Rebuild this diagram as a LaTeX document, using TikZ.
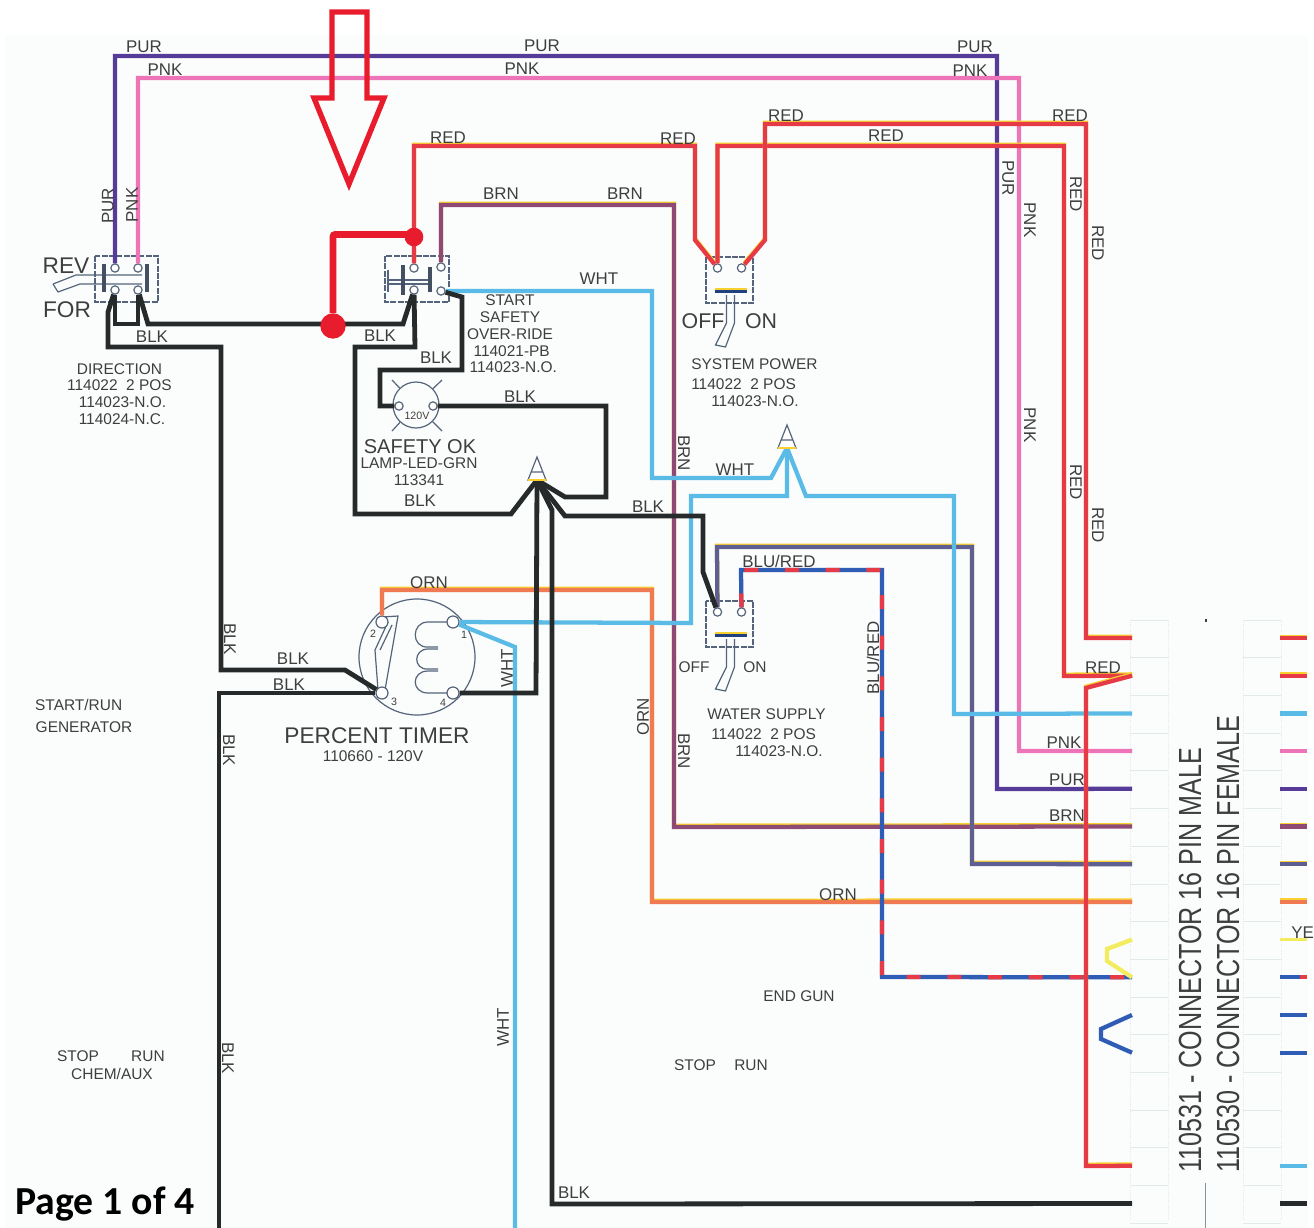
\documentclass[tikz,border=0pt]{standalone}
\usepackage{fontspec}
\setmainfont{Liberation Sans}
\newfontfamily\pagefont{Carlito}
\usepackage{tikz}
\usetikzlibrary{arrows.meta, positioning, calc}

\definecolor{inkgrey}{HTML}{3E3E3E}
\definecolor{boxline}{HTML}{55647A}
\definecolor{paper}{HTML}{FBFDFC}
\definecolor{gridline}{HTML}{E2EAEB}
\definecolor{blkwire}{HTML}{262A2A}
\definecolor{redwire}{HTML}{E63A46}
\definecolor{purwire}{HTML}{563C98}
\definecolor{pnkwire}{HTML}{EE74B8}
\definecolor{brnwire}{HTML}{8E4A74}
\definecolor{whtwire}{HTML}{5ABBE6}
\definecolor{ornwire}{HTML}{F07A52}
\definecolor{gbwire}{HTML}{5E5E92}
\definecolor{bluwire}{HTML}{2F5DB6}
\definecolor{yelwire}{HTML}{F2EC5E}
\definecolor{tintyel}{HTML}{F8D030}
\definecolor{markred}{HTML}{E81C2C}

% wire with the yellow print fringe along its top edge
\newcommand{\tintwire}[2]{\draw[wire, draw=tintyel, transform canvas={yshift=1pt}] #2; \draw[wire, draw=#1] #2;}

\begin{document}
\begin{tikzpicture}[x=0.75pt, y=-0.75pt,
                wire/.style={line width=3.2pt, line join=miter},
                blk/.style={wire, draw=blkwire, line width=3.6pt},
                pur/.style={wire, draw=purwire},
                pnk/.style={wire, draw=pnkwire},
                wht/.style={wire, draw=whtwire},
                blured/.style={wire, draw=bluwire, postaction={draw=redwire, dash pattern=on 10.5pt off 20pt}},
                term/.style={circle, draw=boxline, fill=white, line width=0.9pt, inner sep=0pt, minimum size=6.2pt},
                bigterm/.style={term, minimum size=9pt},
                swbox/.style={draw=boxline, line width=1.1pt, dash pattern=on 4.5pt off 1pt},
                symline/.style={draw=boxline, line width=0.9pt},
                tinynum/.style={font=\fontsize{8}{8}\selectfont, text=inkgrey, inner sep=0pt},
                wlabel/.style={font=\fontsize{12.7}{13}\selectfont, text=inkgrey, inner sep=0pt},
                note/.style={font=\fontsize{11.6}{12.6}\selectfont, text=inkgrey, inner sep=0pt, align=center},
                bignote/.style={font=\fontsize{15}{15}\selectfont, text=inkgrey, inner sep=0pt},
                hugenote/.style={font=\fontsize{17}{17}\selectfont, text=inkgrey, inner sep=0pt},
                pinnote/.style={font=\fontsize{24}{24}\selectfont, text=inkgrey, inner sep=0pt, rotate=90, anchor=west},
                toggleswitch/.pic={
                    \draw[swbox] (-23.5,-23) rectangle (23.5,23);
                    \node[term] (-a) at (-12,-12) {};
                    \node[term] (-b) at (12,-12) {};
                    \draw[draw=tintyel, line width=2.6pt] (-15,9.5) -- (17,9.5);
                    \draw[draw=bluwire!70!black, line width=2.6pt] (-15,11.5) -- (17,11.5);
                    \draw[symline] (-3,15) -- (-3,43) -- (-14,65) -- (-4,67) -- (5,43) -- (5,15);
                },
                wirenut/.pic={
                    \draw[symline, fill=white] (-9,0) -- (0,-23) -- (9,0) -- cycle (-6,-8) -- (6,-8);
                    \draw[draw=tintyel, line width=1.6pt] (-9,0) -- (9,0);
                }]

                \useasboundingbox (0,0) rectangle (1314,1228);
                \fill[paper] (5,35) rectangle (1308,1228);

                % Connector block - right side
                \foreach \gx in {1130,1168,1243,1281}
                    \draw[gridline, line width=0.6pt, densely dotted] (\gx,620) -- (\gx,1220);
                \foreach \gr in {0,...,16}
                    \draw[gridline, line width=0.5pt] (1130,620+37.7*\gr) -- (1168,620+37.7*\gr)
                        (1243,620+37.7*\gr) -- (1281,620+37.7*\gr);
                \draw[boxline!70, line width=1.1pt] (1205.5,1183) -- (1205.5,1228);
                \fill[inkgrey] (1205,619) rectangle (1207,622);
                \foreach \i in {1,...,16} {
                    \coordinate (pin\i) at (1132,638+37.7*\i-37.7);
                    \coordinate (sock\i) at (1280,638+37.7*\i-37.7);
                    \coordinate (end\i) at (1307,638+37.7*\i-37.7);
                }
                \node[pinnote] (malename) at (1190,1173) {\scalebox{0.785}[1]{110531 - CONNECTOR 16 PIN MALE}};
                \node[pinnote] (femalename) at (1228,1173) {\scalebox{0.785}[1]{110530 - CONNECTOR 16 PIN FEMALE}};

                % Direction switch
                \draw[swbox] (95,256) rectangle (158,302);
                \draw[symline] (53,284) -- (76,275) -- (142,275) (58,292) -- (80,284) -- (142,284) (53,284) -- (58,292);
                \draw[draw=boxline!80!black, line width=3pt] (104,264) -- (104,292) (147,264) -- (147,292);
                \node[term] (dirA) at (115,268) {};
                \node[term] (dirB) at (138,268) {};
                \node[term] (dirC) at (115,290) {};
                \node[term] (dirD) at (138,290) {};

                % Safety switch
                \draw[swbox] (385,256) rectangle (449,302);
                \draw[symline] (388,270) -- (388,292) (388,280) -- (403,280) (388,284) -- (403,284) (403,280) -- (430,280) (403,284) -- (430,284);
                \draw[draw=boxline!80!black, line width=3pt] (403,265) -- (403,295) (430,267) -- (430,292);
                \node[term] (safeA) at (414,268) {};
                \node[term] (safeB) at (441,267) {};
                \node[term] (safeC) at (414,290) {};
                \node[term] (safeD) at (441,291) {};

                % Toggle switches
                \pic (sys) at (729.5,280) {toggleswitch};
                \pic (water) at (729.5,624) {toggleswitch};

                % Lamp
                \node[circle, draw=boxline, line width=0.9pt, inner sep=0pt, minimum size=34.5pt] (lamp) at (416,405) {};
                \draw[symline] (392,380) -- (lamp) (442,380) -- (lamp) (392,431) -- (lamp) (442,431) -- (lamp);
                \node[term] (lampL) at (399,406) {};
                \node[term] (lampR) at (433,406) {};
                \node[tinynum] (lampvolt) at (417,416) {120V};

                % Percent timer
                \node[circle, draw=boxline, line width=0.9pt, inner sep=0pt, minimum size=87pt] (timer) at (417,657) {};
                \draw[symline] (382,617) -- (398,616) -- (385,690) (378,690) -- (375,650) -- (388,622) (380,650) -- (392,625);
                \draw[symline] (450,622) -- (428,622) .. controls (411,622) and (411,648) .. (428,647) -- (438,647)
                    (438,649) -- (428,649) .. controls (413,649) and (413,670) .. (428,669) -- (438,669)
                    (438,671) -- (428,671) .. controls (411,671) and (411,693) .. (428,693) -- (450,693);
                \node[bigterm] (tim1) at (453,622) {};
                \node[bigterm] (tim2) at (382,622) {};
                \node[bigterm] (tim3) at (382,693) {};
                \node[bigterm] (tim4) at (453,693) {};
                \node[tinynum] (num1) at (464,635) {1};
                \node[tinynum] (num2) at (373,634) {2};
                \node[tinynum] (num3) at (394,702) {3};
                \node[tinynum] (num4) at (443,703) {4};

                % Splice points
                \coordinate (blknut) at (537,480);
                \coordinate (whtnut) at (787,448);

                % Top run
                \draw[pur] (dirA) -- (115,56) -- (997,56) -- (997,789) -- (pin5);
                \draw[pnk] (dirB) -- (138,78) -- (1019,78) -- (1019,751) -- (pin4);
                \tintwire{brnwire}{(safeB) -- (441,205) -- (674,205) -- (674,827) -- (pin6)}
                \tintwire{gbwire}{(water-a) -- (717,547) -- (972,547) -- (972,864) -- (pin7)}
                \tintwire{ornwire}{(tim2) -- (382,590) -- (652,590) -- (652,902) -- (pin8)}
                \draw[blured] (water-b) -- (741,570) -- (882,570) -- (882,977) -- (pin10);

                % White wires
                \draw[wht] (safeD) -- (652,291) -- (652,478) -- (771,478) -- (whtnut);
                \draw[wht] (whtnut) -- (787,496) -- (691,496) -- (691,623) -- (tim1);
                \draw[wht] (whtnut) -- (806,496) -- (954,496) -- (954,714) -- (pin3);
                \draw[wht] (tim1) -- (515,647) -- (515,1228);

                % Black wires
                \draw[blk] (dirC) -- (115,324) -- (138,324) -- (dirD);
                \draw[blk] (dirD) -- (148,324) -- (403,324) -- (safeC);
                \draw[blk] (dirC) -- (108,312) -- (108,347) -- (221,347) -- (221,670) -- (345,670) -- (tim3);
                \draw[blk] (219,1228) -- (219,693) -- (tim3);
                \draw[blk] (safeC) -- (415,347) -- (355,347) -- (355,514) -- (511,514) -- (blknut);
                \draw[blk] (safeD) -- (462,297) -- (462,370) -- (380,370) -- (380,406) -- (lampL);
                \draw[blk] (lampR) -- (606,406) -- (606,497) -- (565,497) -- (blknut);
                \draw[blk] (blknut) -- (536,693) -- (tim4);
                \draw[blk] (blknut) -- (552,510) -- (552,1204) -- (pin16);
                \draw[blk] (blknut) -- (565,516) -- (703,516) -- (703,572) -- (water-a);

                % Red wires
                \tintwire{redwire}{(safeA) -- (414,146) -- (695,146) -- (695,240) -- (sys-a)}
                \tintwire{redwire}{(sys-a) -- (717.5,146) -- (1064,146) -- (1064,676) -- (pin2)}
                \tintwire{redwire}{(sys-b) -- (765,240) -- (765,124) -- (1086,124) -- (1086,638) -- (pin1)}
                \tintwire{redwire}{(pin2) -- (1086,688) -- (1086,1166) -- (pin15)}

                % Loops at the connector
                \draw[wire, draw=yelwire] (pin9) -- (1107,949) -- (1107,961) -- (pin10);
                \draw[wire, draw=bluwire] (pin11) -- (1101,1029) -- (1101,1039) -- (pin12);

                % Female side stubs
                \tintwire{redwire}{(sock1) -- (end1)}
                \tintwire{redwire}{(sock2) -- (end2)}
                \draw[wht] (sock3) -- (end3);
                \draw[pnk] (sock4) -- (end4);
                \draw[pur] (sock5) -- (end5);
                \tintwire{brnwire}{(sock6) -- (end6)}
                \tintwire{gbwire}{(sock7) -- (end7)}
                \tintwire{ornwire}{(sock8) -- (end8)}
                \draw[wire, draw=yelwire, line width=1.8pt] (sock9) -- (end9);
                \draw[wire, draw=bluwire] (sock10) -- ($(sock10)!0.75!(end10)$);
                \draw[wire, draw=redwire] ($(sock10)!0.75!(end10)$) -- (end10);
                \draw[wire, draw=bluwire] (sock11) -- (end11);
                \draw[wire, draw=bluwire] (sock12) -- (end12);
                \draw[wht] (sock15) -- (end15);
                \draw[blk] (sock16) -- (end16);

                % Splice symbols on top of the wires
                \pic at (blknut) {wirenut};
                \pic at (whtnut) {wirenut};

                % Wire labels
                \foreach \lx/\ly/\ltxt [count=\i] in {144/47/PUR, 165/70/PNK, 542/46/PUR, 522/69/PNK, 975/47/PUR, 970/71/PNK,
                    448/138/RED, 678/139/RED, 786/116/RED, 886/136/RED, 1070/116/RED, 501/194/BRN, 625/194/BRN, 599/279/WHT,
                    735/470/WHT, 152/337/BLK, 380/336/BLK, 436/358/BLK, 520/397/BLK, 420/501/BLK, 648/507/BLK, 293/659/BLK,
                    289/685/BLK, 429/583/ORN, 779/561/{BLU/RED}, 838/895/ORN, 1103/668/RED, 1064/743/PNK, 1067/780/PUR,
                    1067/816/BRN, 574/1193/BLK}
                    \node[wlabel] (wirelab\i) at (\lx,\ly) {\ltxt};
                \foreach \lx/\ly/\ltxt [count=\i] in {108/206/PUR, 132/205/PNK, 507/668/WHT, 503/1027/WHT, 643/717/ORN, 873/658/{BLU/RED}}
                    \node[wlabel, rotate=90] (uplab\i) at (\lx,\ly) {\ltxt};
                \foreach \lx/\ly/\ltxt [count=\i] in {1008/178/PUR, 1030/220/PNK, 1076/194/RED, 1098/243/RED, 1030/425/PNK, 1076/482/RED,
                    1098/525/RED, 684/453/BRN, 684/751/BRN, 230/639/BLK, 229/750/BLK, 228/1058/BLK}
                    \node[wlabel, rotate=-90] (downlab\i) at (\lx,\ly) {\ltxt};
                \node[wlabel, anchor=west] (yelstub) at (1291,933) {YE};

                % Part notes
                \node[hugenote] (revlab) at (66,266) {REV};
                \node[hugenote] (forlab) at (67,310) {FOR};
                \node[note] (dirnote) at (119.5,394) {DIRECTION\\114022~~2 POS\hspace*{4.5pt}\\\hspace*{4.5pt}114023-N.O.\\\hspace*{3.8pt}114024-N.C.};
                \node[note] (safenote) at (510,334) {START\\SAFETY\\OVER-RIDE\\\hspace*{2.5pt}114021-PB\\\hspace*{5pt}114023-N.O.};
                \node[font=\fontsize{16}{16}\selectfont, text=inkgrey, inner sep=0pt] (syslabA) at (703,321) {OFF};
                \node[font=\fontsize{16}{16}\selectfont, text=inkgrey, inner sep=0pt] (syslabB) at (761,321) {ON};
                \node[note, align=left, anchor=north west] (sysnote) at (691,358) {SYSTEM POWER\\[2.5pt]114022~~2 POS\\\hspace*{15pt}114023-N.O.};
                \node[bignote] (lamptitle) at (420,447) {SAFETY OK};
                \node[note] (lampnote) at (419,472) {LAMP-LED-GRN\\113341};
                \node[hugenote] (timertitle) at (377,736) {PERCENT TIMER};
                \node[note] (timernote) at (373,756) {110660 - 120V};
                \node[note] (waterA) at (694,667) {OFF};
                \node[note] (waterB) at (755,667) {ON};
                \node[note, align=left, anchor=north west] (waternote) at (707,708) {WATER SUPPLY\\[2.5pt]\hspace*{3pt}114022~~2 POS\\\hspace*{21pt}114023-N.O.};
                \node[note] (genlab) at (84,716) {\hspace*{-8pt}START/RUN\\[3.5pt]GENERATOR};
                \node[note] (chemA) at (78,1056) {STOP};
                \node[note] (chemB) at (148,1056) {RUN};
                \node[note] (chemC) at (112,1074) {CHEM/AUX};
                \node[note] (gunlab) at (799,996) {END GUN};
                \node[note] (gunA) at (695,1065) {STOP};
                \node[note] (gunB) at (751,1065) {RUN};
                \node[font=\pagefont\bfseries\fontsize{29.8}{30}\selectfont, text=black, inner sep=0pt, anchor=west] (pagelab) at (15,1204) {Page 1 of 4};

                % Red mark-up
                \draw[draw=markred, line width=4pt, line join=miter] (332,12) -- (367,12) -- (367,98) -- (384,98) -- (349,184) -- (314,98) -- (332,98) -- cycle;
                \node[circle, fill=markred, inner sep=0pt, minimum size=14pt] (markA) at (414,237) {};
                \node[circle, fill=markred, inner sep=0pt, minimum size=19pt] (markB) at (333,326) {};
                \draw[draw=markred, line width=5pt, rounded corners=1.5pt] ($(markA)+(0,-2.5)$) -- (333,234.5) -- (markB);
            \end{tikzpicture}
\end{document}
